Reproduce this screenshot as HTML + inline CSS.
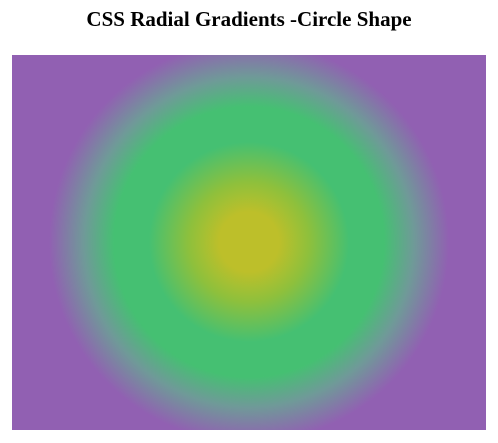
<!DOCTYPE html>
<html>
<head>
<meta charset="utf-8">
<style>
  html,body{margin:0;padding:0;background:#fff;width:498px;height:443px;overflow:hidden;}
  h1{position:absolute;left:0;top:0;width:498px;margin:0;text-align:center;
     font-family:"Liberation Serif",serif;font-weight:bold;font-size:21px;line-height:38px;color:#000;}
  .box{position:absolute;left:12px;top:55px;width:474px;height:375px;
     background:radial-gradient(circle at 237px 187px,
       #bdbf2a 0px, #bdbf2a 30px, #8ec03c 60px, #45c072 100px, #45c072 135px,
       #6f9a98 165px, #9160b2 200px, #9160b2 400px);}
</style>
</head>
<body>
<h1>CSS Radial Gradients -Circle Shape</h1>
<div class="box"></div>
</body>
</html>
